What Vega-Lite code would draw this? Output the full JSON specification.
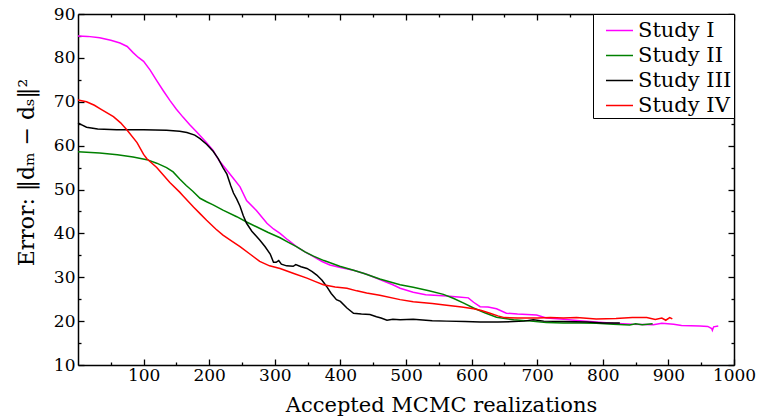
{
  "$schema": "https://vega.github.io/schema/vega-lite/v6.json",
  "width": 656,
  "height": 351,
  "autosize": {"type": "none"},
  "padding": {"left": 78, "top": 14, "right": 26, "bottom": 54},
  "background": "white",
  "config": {
    "view": {"stroke": null},
    "font": "DejaVu Serif",
    "axis": {
      "domainColor": "black", "domainWidth": 1.5, "tickColor": "black", "tickWidth": 1.3,
      "labelColor": "black", "titleColor": "black", "labelFont": "DejaVu Serif", "titleFont": "DejaVu Serif",
      "labelFontSize": 17, "titleFontSize": 21, "titleFontWeight": "normal", "grid": false
    }
  },
  "data": {"values": [
    {"study":"Study I","x":0,"y":85},{"study":"Study I","x":15,"y":84.9},{"study":"Study I","x":33,"y":84.6},{"study":"Study I","x":50,"y":84.0},{"study":"Study I","x":64,"y":83.4},{"study":"Study I","x":75,"y":82.6},{"study":"Study I","x":84,"y":81.2},{"study":"Study I","x":92,"y":80.1},{"study":"Study I","x":100,"y":79.2},{"study":"Study I","x":110,"y":77.2},{"study":"Study I","x":120,"y":74.8},{"study":"Study I","x":130,"y":72.5},{"study":"Study I","x":140,"y":70.3},{"study":"Study I","x":150,"y":68.3},{"study":"Study I","x":160,"y":66.5},{"study":"Study I","x":170,"y":64.8},{"study":"Study I","x":181,"y":63.1},{"study":"Study I","x":195,"y":60.8},{"study":"Study I","x":206,"y":58.9},{"study":"Study I","x":215,"y":56.6},{"study":"Study I","x":227,"y":54.4},{"study":"Study I","x":237,"y":52.5},{"study":"Study I","x":247,"y":50.6},{"study":"Study I","x":257,"y":47.5},{"study":"Study I","x":272,"y":45.2},{"study":"Study I","x":288,"y":42.3},{"study":"Study I","x":298,"y":41.0},{"study":"Study I","x":308,"y":40.0},{"study":"Study I","x":320,"y":38.5},{"study":"Study I","x":333,"y":37.0},{"study":"Study I","x":346,"y":35.8},{"study":"Study I","x":359,"y":34.7},{"study":"Study I","x":372,"y":33.6},{"study":"Study I","x":384,"y":32.8},{"study":"Study I","x":400,"y":32.2},{"study":"Study I","x":420,"y":31.6},{"study":"Study I","x":440,"y":30.7},{"study":"Study I","x":460,"y":29.5},{"study":"Study I","x":480,"y":28.3},{"study":"Study I","x":491,"y":27.5},{"study":"Study I","x":511,"y":26.6},{"study":"Study I","x":530,"y":26.0},{"study":"Study I","x":562,"y":25.7},{"study":"Study I","x":580,"y":25.5},{"study":"Study I","x":595,"y":25.3},{"study":"Study I","x":603,"y":24.3},{"study":"Study I","x":613,"y":23.3},{"study":"Study I","x":625,"y":23.2},{"study":"Study I","x":638,"y":22.8},{"study":"Study I","x":653,"y":21.8},{"study":"Study I","x":670,"y":21.6},{"study":"Study I","x":699,"y":21.4},{"study":"Study I","x":714,"y":20.7},{"study":"Study I","x":740,"y":20.4},{"study":"Study I","x":765,"y":20.1},{"study":"Study I","x":790,"y":19.8},{"study":"Study I","x":816,"y":19.5},{"study":"Study I","x":845,"y":19.3},{"study":"Study I","x":877,"y":19.2},{"study":"Study I","x":890,"y":19.5},{"study":"Study I","x":908,"y":19.3},{"study":"Study I","x":920,"y":19.0},{"study":"Study I","x":948,"y":18.9},{"study":"Study I","x":960,"y":18.8},{"study":"Study I","x":966,"y":18.3},{"study":"Study I","x":967,"y":17.9},{"study":"Study I","x":969,"y":18.7},{"study":"Study I","x":976,"y":18.9},
    {"study":"Study II","x":0,"y":58.6},{"study":"Study II","x":33,"y":58.3},{"study":"Study II","x":60,"y":57.9},{"study":"Study II","x":84,"y":57.4},{"study":"Study II","x":105,"y":56.8},{"study":"Study II","x":120,"y":56.0},{"study":"Study II","x":135,"y":55.0},{"study":"Study II","x":145,"y":54.0},{"study":"Study II","x":155,"y":52.4},{"study":"Study II","x":165,"y":50.9},{"study":"Study II","x":175,"y":49.6},{"study":"Study II","x":186,"y":48.0},{"study":"Study II","x":196,"y":47.2},{"study":"Study II","x":206,"y":46.5},{"study":"Study II","x":221,"y":45.3},{"study":"Study II","x":242,"y":43.8},{"study":"Study II","x":257,"y":42.6},{"study":"Study II","x":272,"y":41.5},{"study":"Study II","x":290,"y":40.2},{"study":"Study II","x":308,"y":39.0},{"study":"Study II","x":320,"y":38.0},{"study":"Study II","x":333,"y":37.0},{"study":"Study II","x":346,"y":35.8},{"study":"Study II","x":359,"y":34.8},{"study":"Study II","x":375,"y":33.8},{"study":"Study II","x":399,"y":32.5},{"study":"Study II","x":420,"y":31.6},{"study":"Study II","x":435,"y":30.9},{"study":"Study II","x":460,"y":29.6},{"study":"Study II","x":491,"y":28.3},{"study":"Study II","x":511,"y":27.7},{"study":"Study II","x":535,"y":26.9},{"study":"Study II","x":557,"y":26.1},{"study":"Study II","x":572,"y":25.2},{"study":"Study II","x":588,"y":24.1},{"study":"Study II","x":603,"y":23.0},{"study":"Study II","x":620,"y":21.9},{"study":"Study II","x":638,"y":20.9},{"study":"Study II","x":664,"y":20.3},{"study":"Study II","x":690,"y":20.0},{"study":"Study II","x":714,"y":19.7},{"study":"Study II","x":740,"y":19.6},{"study":"Study II","x":765,"y":19.6},{"study":"Study II","x":790,"y":19.5},{"study":"Study II","x":816,"y":19.3},{"study":"Study II","x":841,"y":19.1},{"study":"Study II","x":850,"y":19.4},{"study":"Study II","x":860,"y":19.2},{"study":"Study II","x":876,"y":19.4},
    {"study":"Study III","x":0,"y":65.2},{"study":"Study III","x":5,"y":64.8},{"study":"Study III","x":13,"y":64.2},{"study":"Study III","x":30,"y":63.8},{"study":"Study III","x":59,"y":63.6},{"study":"Study III","x":100,"y":63.6},{"study":"Study III","x":135,"y":63.5},{"study":"Study III","x":155,"y":63.3},{"study":"Study III","x":166,"y":63.0},{"study":"Study III","x":178,"y":62.4},{"study":"Study III","x":186,"y":61.6},{"study":"Study III","x":196,"y":60.3},{"study":"Study III","x":206,"y":58.7},{"study":"Study III","x":214,"y":57.0},{"study":"Study III","x":221,"y":55.0},{"study":"Study III","x":227,"y":53.5},{"study":"Study III","x":233,"y":50.8},{"study":"Study III","x":237,"y":49.2},{"study":"Study III","x":242,"y":47.8},{"study":"Study III","x":247,"y":46.2},{"study":"Study III","x":252,"y":44.0},{"study":"Study III","x":257,"y":42.3},{"study":"Study III","x":265,"y":40.5},{"study":"Study III","x":277,"y":38.5},{"study":"Study III","x":285,"y":37.0},{"study":"Study III","x":293,"y":35.3},{"study":"Study III","x":298,"y":33.4},{"study":"Study III","x":302,"y":33.4},{"study":"Study III","x":306,"y":33.8},{"study":"Study III","x":310,"y":33.0},{"study":"Study III","x":318,"y":32.6},{"study":"Study III","x":328,"y":32.5},{"study":"Study III","x":332,"y":32.9},{"study":"Study III","x":340,"y":32.4},{"study":"Study III","x":349,"y":32.0},{"study":"Study III","x":357,"y":31.3},{"study":"Study III","x":364,"y":30.5},{"study":"Study III","x":372,"y":29.3},{"study":"Study III","x":379,"y":27.9},{"study":"Study III","x":386,"y":26.3},{"study":"Study III","x":394,"y":24.9},{"study":"Study III","x":400,"y":24.5},{"study":"Study III","x":410,"y":23.0},{"study":"Study III","x":420,"y":21.8},{"study":"Study III","x":432,"y":21.6},{"study":"Study III","x":445,"y":21.5},{"study":"Study III","x":455,"y":21.0},{"study":"Study III","x":462,"y":20.7},{"study":"Study III","x":471,"y":20.2},{"study":"Study III","x":480,"y":20.4},{"study":"Study III","x":491,"y":20.3},{"study":"Study III","x":511,"y":20.4},{"study":"Study III","x":540,"y":20.1},{"study":"Study III","x":562,"y":20.0},{"study":"Study III","x":590,"y":19.9},{"study":"Study III","x":613,"y":19.8},{"study":"Study III","x":640,"y":19.8},{"study":"Study III","x":664,"y":19.9},{"study":"Study III","x":680,"y":20.0},{"study":"Study III","x":694,"y":20.3},{"study":"Study III","x":710,"y":20.0},{"study":"Study III","x":740,"y":19.9},{"study":"Study III","x":776,"y":19.8},{"study":"Study III","x":800,"y":19.6},{"study":"Study III","x":826,"y":19.6},
    {"study":"Study IV","x":0,"y":70.4},{"study":"Study IV","x":13,"y":70.0},{"study":"Study IV","x":25,"y":69.2},{"study":"Study IV","x":34,"y":68.4},{"study":"Study IV","x":54,"y":66.6},{"study":"Study IV","x":65,"y":65.2},{"study":"Study IV","x":75,"y":63.5},{"study":"Study IV","x":90,"y":60.7},{"study":"Study IV","x":100,"y":58.0},{"study":"Study IV","x":105,"y":57.0},{"study":"Study IV","x":120,"y":55.0},{"study":"Study IV","x":140,"y":51.6},{"study":"Study IV","x":155,"y":49.4},{"study":"Study IV","x":160,"y":48.6},{"study":"Study IV","x":176,"y":46.0},{"study":"Study IV","x":186,"y":44.5},{"study":"Study IV","x":196,"y":43.0},{"study":"Study IV","x":210,"y":41.0},{"study":"Study IV","x":221,"y":39.6},{"study":"Study IV","x":235,"y":38.2},{"study":"Study IV","x":247,"y":37.0},{"study":"Study IV","x":262,"y":35.3},{"study":"Study IV","x":277,"y":33.6},{"study":"Study IV","x":292,"y":32.6},{"study":"Study IV","x":308,"y":32.0},{"study":"Study IV","x":330,"y":30.8},{"study":"Study IV","x":349,"y":29.8},{"study":"Study IV","x":362,"y":29.0},{"study":"Study IV","x":374,"y":28.3},{"study":"Study IV","x":392,"y":27.8},{"study":"Study IV","x":410,"y":27.5},{"study":"Study IV","x":425,"y":26.9},{"study":"Study IV","x":440,"y":26.4},{"study":"Study IV","x":460,"y":25.9},{"study":"Study IV","x":491,"y":24.9},{"study":"Study IV","x":511,"y":24.4},{"study":"Study IV","x":540,"y":24.0},{"study":"Study IV","x":562,"y":23.6},{"study":"Study IV","x":585,"y":23.2},{"study":"Study IV","x":603,"y":22.8},{"study":"Study IV","x":615,"y":22.4},{"study":"Study IV","x":628,"y":21.8},{"study":"Study IV","x":640,"y":21.2},{"study":"Study IV","x":650,"y":20.8},{"study":"Study IV","x":670,"y":20.7},{"study":"Study IV","x":701,"y":20.7},{"study":"Study IV","x":720,"y":20.8},{"study":"Study IV","x":740,"y":20.7},{"study":"Study IV","x":760,"y":20.8},{"study":"Study IV","x":790,"y":20.5},{"study":"Study IV","x":820,"y":20.6},{"study":"Study IV","x":845,"y":20.8},{"study":"Study IV","x":867,"y":20.8},{"study":"Study IV","x":880,"y":20.4},{"study":"Study IV","x":890,"y":20.7},{"study":"Study IV","x":896,"y":20.2},{"study":"Study IV","x":902,"y":20.8},{"study":"Study IV","x":906,"y":20.5}
  ]},
  "layer": [
    {
      "mark": {"type": "line", "strokeWidth": 1.5},
      "encoding": {
        "x": {"field": "x", "type": "quantitative", "scale": {"domain": [0, 1000], "nice": false},
          "axis": {"orient": "bottom", "title": "Accepted MCMC realizations", "titlePadding": 11, "titleX": 363, "format": "d",
            "values": [50,100,150,200,250,300,350,400,450,500,550,600,650,700,750,800,850,900,950,1000],
            "labelExpr": "datum.value % 100 === 0 ? datum.label : ''",
            "tickSize": {"condition": {"test": "datum.value % 100 === 0", "value": -6}, "value": -3},
            "labelPadding": 8, "labelFlush": false}},
        "y": {"field": "y", "type": "quantitative", "scale": {"domain": [10, 90], "nice": false},
          "axis": {"orient": "left", "title": "Error: ‖dₘ − dₛ‖²", "titlePadding": 15, "titleFontSize": 22, "titleY": 158,
            "values": [10,15,20,25,30,35,40,45,50,55,60,65,70,75,80,85,90],
            "labelExpr": "datum.value % 10 === 0 ? datum.label : ''",
            "tickSize": {"condition": {"test": "datum.value % 10 === 0", "value": -6}, "value": -3},
            "labelPadding": 9, "labelFlush": false}},
        "color": {"field": "study", "type": "nominal",
          "scale": {"domain": ["Study I","Study II","Study III","Study IV"], "range": ["#ff00ff","#008000","#000000","#ff0000"]},
          "legend": {"title": null, "orient": "top-right", "offset": 0, "symbolType": "stroke", "symbolSize": 729,
            "symbolStrokeWidth": 1.5, "symbolOffset": 10, "labelFontSize": 21, "labelFont": "DejaVu Serif", "labelColor": "black",
            "strokeColor": "black", "fillColor": "white", "padding": 2, "rowPadding": -9, "labelOffset": 4, "cornerRadius": 0}}
      }
    },
    {
      "mark": {"type": "line", "strokeOpacity": 0},
      "encoding": {
        "x": {"field": "x", "type": "quantitative",
          "axis": {"orient": "top", "title": null, "labels": false,
            "values": [50,100,150,200,250,300,350,400,450,500,550,600,650,700,750,800,850,900,950,1000],
            "tickSize": {"condition": {"test": "datum.value % 100 === 0", "value": -6}, "value": -3}}},
        "y": {"field": "y", "type": "quantitative",
          "axis": {"orient": "right", "title": null, "labels": false,
            "values": [10,15,20,25,30,35,40,45,50,55,60,65,70,75,80,85,90],
            "tickSize": {"condition": {"test": "datum.value % 10 === 0", "value": -6}, "value": -3}}}
      }
    }
  ],
  "resolve": {"axis": {"x": "independent", "y": "independent"}}
}
